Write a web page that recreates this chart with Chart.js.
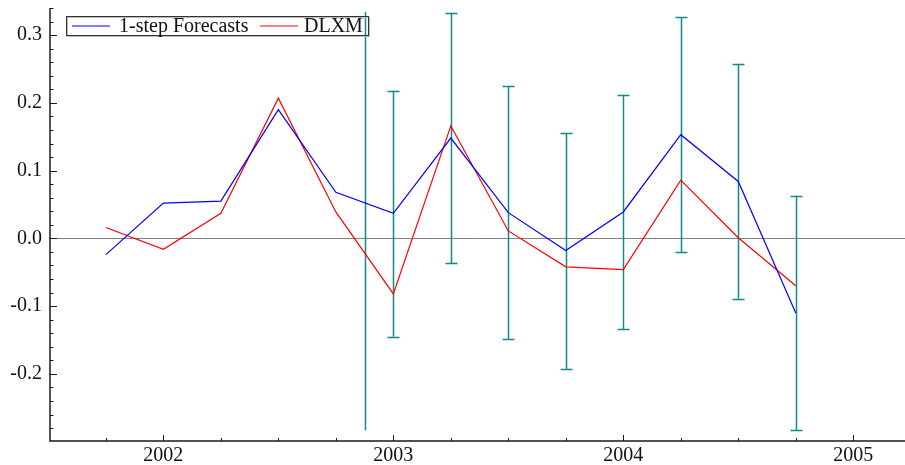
<!DOCTYPE html>
<html>
<head>
<meta charset="utf-8">
<script src="https://cdn.jsdelivr.net/npm/chart.js@4.4.1/dist/chart.umd.min.js"></script>
<style>
  html, body { margin: 0; padding: 0; background: #fff; }
  #wrap { width: 905px; height: 465px; position: relative; }
</style>
</head>
<body>
<div id="wrap"><canvas id="c"></canvas></div>
<script>
// Quarterly dates (decimal years)
const QUARTERS = [2001.75, 2002.0, 2002.25, 2002.5, 2002.75, 2003.0, 2003.25,
                  2003.5, 2003.75, 2004.0, 2004.25, 2004.5, 2004.75];
// 1-step forecasts
const FORECASTS = [-0.024, 0.052, 0.055, 0.190, 0.068, 0.037, 0.148,
                   0.038, -0.018, 0.039, 0.153, 0.084, -0.110];
// Actual DLXM values
const DLXM = [0.016, -0.016, 0.037, 0.207, 0.039, -0.082, 0.166,
              0.011, -0.042, -0.046, 0.086, 0.001, -0.070];
// Forecast error bands
const BAND_X    = [2002.875, 2003.0, 2003.25, 2003.5, 2003.75, 2004.0, 2004.25, 2004.5, 2004.75];
const BAND_LOW  = [-0.283, -0.145, -0.037, -0.149, -0.193, -0.134, -0.020, -0.089, -0.283];
const BAND_HIGH = [0.334, 0.218, 0.333, 0.225, 0.155, 0.212, 0.326, 0.257, 0.063];
const BAND_CAPS = [false, true, true, true, true, true, true, true, true];
// Axis ticks
const X_YEARS = [2002, 2003, 2004, 2005];
const Y_TICKS = [-0.2, -0.1, 0.0, 0.1, 0.2, 0.3];

const SERIF = '"Liberation Serif", "Times New Roman", serif';
const AXIS_COLOR = '#1a1a1a';

const toPoints = (xs, ys) => xs.map((x, i) => ({ x: x, y: ys[i] }));

const decorations = {
  id: 'decorations',
  beforeDatasetsDraw(chart) {
    const { ctx, chartArea: a, scales: { x, y } } = chart;
    ctx.save();
    // zero reference line
    ctx.strokeStyle = '#808080';
    ctx.lineWidth = 1;
    const y0 = Math.round(y.getPixelForValue(0)) + 0.5;
    ctx.beginPath(); ctx.moveTo(a.left, y0); ctx.lineTo(a.right, y0); ctx.stroke();
    // error bands
    ctx.strokeStyle = '#108a8a';
    ctx.lineWidth = 1.5;
    BAND_X.forEach((bx, i) => {
      const px = Math.round(x.getPixelForValue(bx)) + 0.5;
      const lo = y.getPixelForValue(BAND_LOW[i]);
      const hi = y.getPixelForValue(BAND_HIGH[i]);
      ctx.beginPath(); ctx.moveTo(px, lo); ctx.lineTo(px, hi); ctx.stroke();
      if (BAND_CAPS[i]) {
        ctx.beginPath();
        ctx.moveTo(px - 6, Math.round(lo) + 0.5); ctx.lineTo(px + 6, Math.round(lo) + 0.5);
        ctx.moveTo(px - 6, Math.round(hi) + 0.5); ctx.lineTo(px + 6, Math.round(hi) + 0.5);
        ctx.stroke();
      }
    });
    ctx.restore();
  },
  afterDraw(chart) {
    const { ctx, chartArea: a, scales: { x, y } } = chart;
    ctx.save();
    ctx.strokeStyle = AXIS_COLOR;
    ctx.lineWidth = 1.5;
    // axis lines
    ctx.beginPath();
    ctx.moveTo(a.left, a.top); ctx.lineTo(a.left, a.bottom); ctx.lineTo(a.right, a.bottom);
    ctx.stroke();
    ctx.lineWidth = 1;
    // y ticks: major every 0.1, minor every 0.02
    ctx.beginPath();
    for (let k = -15; k <= 17; k++) {
      const v = k * 0.02;
      const py = y.getPixelForValue(v);
      if (py < a.top - 0.5 || py > a.bottom) continue;
      const major = k % 5 === 0;
      const yy = Math.round(py) + 0.5;
      ctx.moveTo(a.left, yy); ctx.lineTo(a.left + (major ? 7 : 3.5), yy);
    }
    // x ticks: major each year, minor each quarter
    for (let k = 0; k < 20; k++) {
      const v = 2001.5 + k * 0.25;
      const px = x.getPixelForValue(v);
      if (px < a.left || px > a.right) continue;
      const major = Math.abs(v - Math.round(v)) < 1e-6;
      const xx = Math.round(px) + 0.5;
      ctx.moveTo(xx, a.bottom); ctx.lineTo(xx, a.bottom - (major ? 6 : 3));
    }
    ctx.stroke();

    // legend box
    const bx = 66.5, by = 16.5, bw = 302, bh = 19;
    ctx.strokeStyle = '#bdbdbd';
    ctx.lineWidth = 1;
    ctx.strokeRect(bx + 1, by + 1, bw, bh);
    ctx.strokeStyle = '#333';
    ctx.strokeRect(bx, by, bw, bh);
    const ly = 26;
    ctx.lineWidth = 1.2;
    ctx.strokeStyle = '#0000ff';
    ctx.beginPath(); ctx.moveTo(72, ly); ctx.lineTo(110, ly); ctx.stroke();
    ctx.strokeStyle = '#ff0000';
    ctx.beginPath(); ctx.moveTo(260, ly); ctx.lineTo(298, ly); ctx.stroke();
    ctx.fillStyle = '#111';
    ctx.font = '20px ' + SERIF;
    ctx.textBaseline = 'middle';
    ctx.fillText('1-step Forecasts', 119, ly + 1);
    ctx.fillText('DLXM', 304, ly + 1);
    ctx.restore();
  }
};

new Chart(document.getElementById('c'), {
  type: 'line',
  data: {
    datasets: [
      { label: '1-step Forecasts', data: toPoints(QUARTERS, FORECASTS),
        borderColor: '#0000ff', borderWidth: 1.2, pointRadius: 0, tension: 0, fill: false },
      { label: 'DLXM', data: toPoints(QUARTERS, DLXM),
        borderColor: '#ff0000', borderWidth: 1.2, pointRadius: 0, tension: 0, fill: false }
    ]
  },
  options: {
    responsive: true,
    maintainAspectRatio: false,
    animation: false,
    layout: { padding: { top: 8, right: 0, left: 0, bottom: 0 } },
    plugins: { legend: { display: false }, tooltip: { enabled: false } },
    scales: {
      x: {
        type: 'linear',
        min: 2001.507,
        max: 2005.225,
        afterBuildTicks(s) { s.ticks = X_YEARS.map(v => ({ value: v })); },
        afterFit(s) { s.height = 24; s.paddingLeft = 0; s.paddingRight = 0; },
        grid: { display: false, drawTicks: false },
        border: { display: false },
        ticks: {
          autoSkip: false,
          maxRotation: 0,
          padding: 3,
          color: '#111',
          font: { family: SERIF, size: 20 },
          callback: v => String(v)
        }
      },
      y: {
        min: -0.299,
        max: 0.34,
        afterBuildTicks(s) { s.ticks = Y_TICKS.map(v => ({ value: v })); },
        afterFit(s) { s.width = 50; s.paddingTop = 0; s.paddingBottom = 0; },
        grid: { display: false, drawTicks: false },
        border: { display: false },
        ticks: {
          padding: 8,
          color: '#111',
          font: { family: SERIF, size: 20 },
          callback: v => (Math.abs(v) < 1e-9 ? 0 : v).toFixed(1)
        }
      }
    }
  },
  plugins: [decorations]
});
</script>
</body>
</html>
